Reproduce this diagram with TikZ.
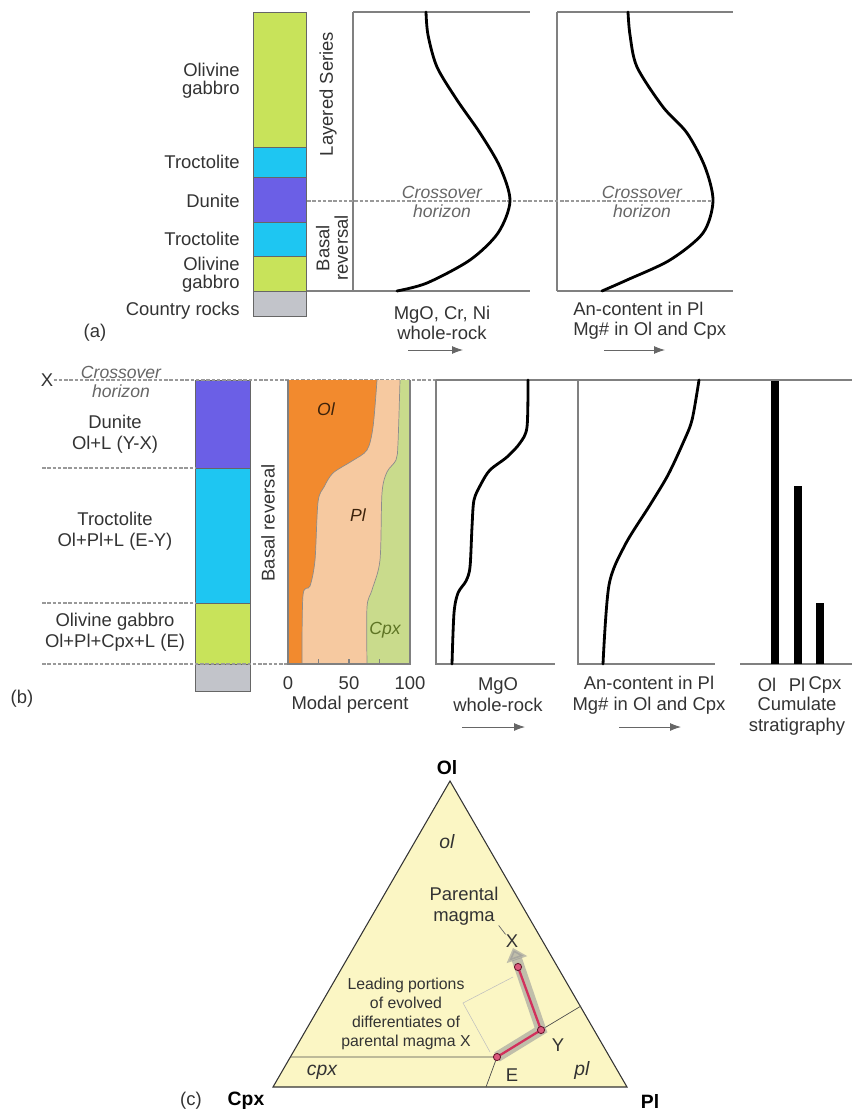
\documentclass[tikz,border=0pt]{standalone}
\usepackage{fontspec}
\setmainfont{Liberation Sans}
\usetikzlibrary{arrows.meta,positioning}
\definecolor{gabbro}{HTML}{C8E35A}
\definecolor{troct}{HTML}{1EC6F2}
\definecolor{dunite}{HTML}{6B5FE6}
\definecolor{country}{HTML}{C2C4CA}
\definecolor{olfill}{HTML}{F28A2E}
\definecolor{plfill}{HTML}{F6C9A0}
\definecolor{cpxfill}{HTML}{C9DB8C}
\definecolor{cpxtext}{HTML}{5E7424}
\definecolor{tern}{HTML}{FBF6C4}
\definecolor{crim}{HTML}{D2305C}
\definecolor{ink}{HTML}{333333}
\tikzset{lbl/.style={font=\fontsize{10.5}{12}\selectfont,text=ink,inner sep=0pt,align=center},tight/.style={lbl,font=\fontsize{10.5}{10.5}\selectfont},ital/.style={lbl,font=\fontsize{10}{11}\selectfont\itshape,text=black!60},small/.style={lbl,font=\fontsize{9}{10.8}\selectfont},bold/.style={lbl,font=\fontsize{11}{12}\selectfont\bfseries,text=black},frame/.style={draw=black!50,line width=.7pt},horiz/.style={draw=black!40,line width=.6pt,dash pattern=on 2pt off 1pt},curve/.style={line width=1.6pt,black,line cap=round},dir/.style={-{Latex[length=2.2mm,width=1.6mm]},black!60,line width=.5pt},layer/.style={draw=black!60,line width=.4pt},halo/.style={line width=6pt,black!40,opacity=.6,-{Triangle[width=12pt,length=7pt]}}}
\begin{document}
\begin{tikzpicture}[x=0.02cm,y=-0.02cm]
\useasboundingbox (0,0) rectangle (852,1118);
% ---- (a)
\foreach \t/\b/\c in {12/147/gabbro,147/177/troct,177/222/dunite,222/256/troct,256/291/gabbro,291/316/country}
  {\path[fill=\c,layer] (253,\t) rectangle (306,\b);}
\node[tight,anchor=east,align=right] (ogA1) at (240,81) {Olivine\\gabbro};
\node[lbl,anchor=east] (trA1) at (240,162) {Troctolite};
\node[lbl,anchor=east] (duA) at (240,201) {Dunite};
\node[lbl,anchor=east] (trA2) at (240,239) {Troctolite};
\node[tight,anchor=east,align=right] (ogA2) at (240,275) {Olivine\\gabbro};
\node[lbl,anchor=east] (crA) at (240,311) {Country rocks};
\node[lbl] (capA) at (95,333) {(a)};
\node[lbl,rotate=90] (layered) at (328,94) {Layered Series};
\node[tight,rotate=90] (basalA) at (332,248) {Basal\\reversal};
\draw[frame] (353,12) -- (530,12) (353,12) -- (353,291) (307,291) -- (530,291);
\draw[frame] (557,12) -- (733,12) (557,12) -- (557,291) (557,291) -- (733,291);
\draw[horiz] (307,201) -- (713,201);
\draw[curve] plot[smooth] coordinates {(426,12) (428,35) (437,67) (457,100) (480,133) (500,167) (510,201) (498,233) (470,260) (427,283) (397,291)};
\draw[curve] plot[smooth] coordinates {(628,12) (630,35) (637,67) (663,107) (687,133) (705,167) (713,201) (703,233) (670,260) (627,280) (602,291)};
\node[ital] (coA1) at (442,202) {Crossover\\horizon};
\node[ital] (coA2) at (642,202) {Crossover\\horizon};
\node[lbl,font=\fontsize{10.5}{11.5}\selectfont] (mgoA) at (442,323) {MgO, Cr, Ni\\whole-rock};
\node[lbl,font=\fontsize{10.5}{11.5}\selectfont,align=left,anchor=west] (anA) at (573,321) {An-content in Pl\\Mg\# in Ol and Cpx};
\coordinate (a1s) at (408,350); \coordinate (a1e) at (463,350);
\coordinate (a2s) at (604,350); \coordinate (a2e) at (665,350);
\draw[dir] (a1s) -- (a1e);
\draw[dir] (a2s) -- (a2e);
% ---- (b)
\foreach \t/\b/\c in {380/468/dunite,468/603/troct,603/664/gabbro,664/691/country}
  {\path[fill=\c,layer] (195,\t) rectangle (250,\b);}
\foreach \y/\e in {468/195,603/195,664/288}
  {\draw[horiz] (42,\y) -- (\e,\y);}
\node[lbl] (xB) at (47,380) {X};
\draw[horiz] (xB.east) -- (436,380);
\draw[frame] (436,380) -- (852,380);
\node[ital] (coB) at (121,382) {Crossover\\horizon};
\node[lbl] (duB) at (115,434) {Dunite\\Ol+L (Y-X)};
\node[lbl] (trB) at (115,531) {Troctolite\\Ol+Pl+L (E-Y)};
\node[lbl] (ogB) at (115,632) {Olivine gabbro\\Ol+Pl+Cpx+L (E)};
\node[lbl] (capB) at (22,699) {(b)};
\node[lbl,rotate=90] (basalB) at (268,523) {Basal reversal};
% modal percent
\fill[cpxfill] (288,380) rectangle (410,664);
\fill[plfill] (288,380) -- plot[smooth] coordinates {(400,380) (398,443) (396,460) (387,472) (382,493) (380,560) (372,590) (367,607) (367,664)} -- (288,664) -- cycle;
\fill[olfill] (288,380) -- plot[smooth] coordinates {(377,380) (373,427) (367,450) (352,461) (333,473) (324,487) (318,502) (315,560) (310,586) (303,595) (302,664)} -- (288,664) -- cycle;
\draw[black!45,line width=.4pt] plot[smooth] coordinates {(400,380) (398,443) (396,460) (387,472) (382,493) (380,560) (372,590) (367,607) (367,664)};
\draw[black!45,line width=.4pt] plot[smooth] coordinates {(377,380) (373,427) (367,450) (352,461) (333,473) (324,487) (318,502) (315,560) (310,586) (303,595) (302,664)};
\draw[frame] (288,380) -- (288,664) -- (410,664) -- (410,380);
\foreach \p in {25,50,75}
  {\draw[frame] ({288+1.22*\p},664) -- ({288+1.22*\p},659);}
\node[lbl,font=\itshape\fontsize{10}{11}\selectfont,text=black!75!olfill] (olM) at (326,409) {Ol};
\node[lbl,font=\itshape\fontsize{10}{11}\selectfont,text=black!75!olfill] (plM) at (358,515) {Pl};
\node[lbl,font=\itshape\fontsize{10}{11}\selectfont,text=cpxtext] (cpxM) at (385,630) {Cpx};
\foreach \v/\n in {0/t0,50/t50,100/t100}
  {\node[lbl] (\n) at ({288+1.22*\v},683) {\v};}
\node[lbl] (modal) at (350,705) {Modal percent};
% MgO, An-content, cumulates
\draw[frame] (436,380) -- (436,664) -- (555,664);
\draw[frame] (578,380) -- (578,664) -- (715,664);
\draw[frame] (740,664) -- (852,664);
\draw[curve] plot[smooth] coordinates {(528,380) (527,427) (520,443) (507,457) (490,470) (481,484) (474,500) (472,527) (470,567) (466,581) (458,593) (454,613) (452,664)};
\draw[curve] plot[smooth] coordinates {(699,380) (692,420) (683,443) (668,475) (650,505) (625,545) (609,585) (603,664)};
\fill (771,381) rectangle (779,664);
\fill (794,486) rectangle (802,664);
\fill (816,603) rectangle (824,664);
\node[lbl] (mgoB) at (498,695) {MgO\\whole-rock};
\node[lbl] (anB) at (649,695) {An-content in Pl\\Mg\# in Ol and Cpx};
\node[lbl] (olC) at (767,685) {Ol};
\node[lbl] (plC) at (797,685) {Pl};
\node[lbl] (cpxC) at (825,685) {Cpx};
\node[lbl] (cumul) at (797,716) {Cumulate\\stratigraphy};
\coordinate (b1s) at (462,727); \coordinate (b1e) at (525,727);
\coordinate (b2s) at (619,727); \coordinate (b2e) at (681,727);
\draw[dir] (b1s) -- (b1e);
\draw[dir] (b2s) -- (b2e);
% ---- (c)
\coordinate (olV) at (450,781); \coordinate (cpxV) at (273,1087); \coordinate (plV) at (627,1087);
\coordinate (ptE) at (497,1057); \coordinate (ptY) at (541,1030); \coordinate (ptX) at (518,967);
\coordinate (cpxL) at (290,1057); \coordinate (plR) at (581,1006); \coordinate (eB) at (486,1087);
\coordinate (tipX) at (513,948);
\filldraw[fill=tern,draw=black!80,line width=.6pt] (olV) -- (cpxV) -- (plV) -- cycle;
\draw[black!70,line width=.4pt] (cpxL) -- (ptE) -- (eB) (ptY) -- (plR);
\coordinate (lp1) at (463,1003); \coordinate (lp2) at (513,977); \coordinate (lp3) at (490,1052);
\draw[black!25,line width=.3pt] (lp3) -- (lp1) -- (lp2);
\draw[halo] (ptE) -- (ptY) -- (tipX);
\draw[crim,line width=1.3pt] (ptE) -- (ptY) -- (ptX);
\foreach \p in {ptE,ptY,ptX}
  {\filldraw[fill=crim!80,draw=crim!50!black,line width=.5pt] (\p) circle (3.6);}
\node[bold] (olT) at (447,768) {Ol};
\node[bold] (cpxT) at (246,1101) {Cpx};
\node[bold] (plT) at (650,1101) {Pl};
\node[lbl] (capC) at (191,1101) {(c)};
\node[lbl,font=\itshape\fontsize{11}{12}\selectfont] (olf) at (447,842) {ol};
\node[lbl,font=\itshape\fontsize{11}{12}\selectfont] (cpxf) at (322,1072) {cpx};
\node[lbl,font=\itshape\fontsize{11}{12}\selectfont] (plf) at (582,1070) {pl};
\node[lbl] (xc) at (512,941) {X};
\node[lbl] (yc) at (558,1045) {Y};
\node[lbl] (ec) at (512,1075) {E};
\node[lbl] (pm) at (464,906) {Parental\\magma};
\draw[black!60,line width=.4pt] (xc.north west) -- (pm.south east);
\node[small] (lead) at (406,1014) {Leading portions\\of evolved\\differentiates of\\parental magma X};
\end{tikzpicture}
\end{document}
